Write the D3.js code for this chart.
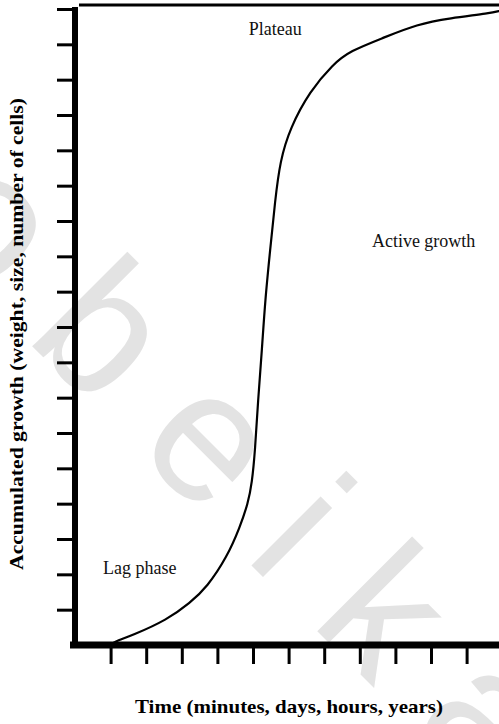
<!DOCTYPE html>
<html>
<head>
<meta charset="utf-8">
<script src="https://cdn.jsdelivr.net/npm/d3@7"></script>
<style>
  html, body { margin: 0; padding: 0; background: #fff; }
  svg { display: block; }
</style>
</head>
<body>
<div id="chart"></div>
<script>
// Sigmoid growth curve: accumulated growth against time
const timeValues   = [1.0, 1.07, 1.63, 2.58, 3.23, 3.71, 4.27, 4.63, 4.86, 4.97, 5.06, 5.14, 5.25, 5.34, 5.48, 5.62, 5.76, 6.04, 6.60, 7.25, 7.72, 8.65, 9.61, 10.53, 11.66, 11.95];
const growthValues = [0, 0.08, 0.28, 0.71, 1.19, 1.64, 2.49, 3.33, 4.01, 4.58, 5.51, 6.92, 8.33, 9.75, 11.16, 12.57, 13.70, 14.63, 15.68, 16.44, 16.81, 17.18, 17.57, 17.74, 17.88, 17.95];

const timeTicks   = d3.range(1, 12);   // 1..11
const growthTicks = d3.range(1, 19);   // 1..18

const phaseLabels = ["Plateau", "Active growth", "Lag phase"];
const phaseTime   = [4.88, 8.34, 0.79];
const phaseGrowth = [17.27, 11.27, 2.0];

const xTitle = "Time (minutes, days, hours, years)";
const yTitle = "Accumulated growth (weight, size, number of cells)";
const stamp  = "obeikan";

const W = 499, H = 724;
const svg = d3.select("#chart").append("svg")
  .attr("width", W).attr("height", H);

const x = d3.scaleLinear().domain([0, 12]).range([75, 75 + 12 * 35.6]);
const y = d3.scaleLinear().domain([0, 18]).range([645, 9]);

// faint diagonal publisher stamp behind the chart
svg.append("text")
  .attr("transform", "translate(33,347) rotate(45)")
  .attr("x", -168)
  .attr("y", 0)
  .attr("font-family", "Liberation Sans, Arial, sans-serif")
  .attr("font-size", 185)
  .attr("letter-spacing", 52)
  .attr("fill", "#e3e3e3")
  .text(stamp);

// top frame line
svg.append("line")
  .attr("x1", x(0) + 4).attr("x2", W)
  .attr("y1", 5).attr("y2", 5)
  .attr("stroke", "#000").attr("stroke-width", 3);

// left axis
const yAxis = svg.append("g")
  .attr("transform", `translate(${x(0)},0)`)
  .call(d3.axisLeft(y).tickValues(growthTicks).tickSize(18).tickSizeOuter(0).tickFormat(""));
yAxis.select(".domain").remove();
yAxis.selectAll(".tick line").attr("stroke", "#000").attr("stroke-width", 3);
svg.append("line")
  .attr("x1", x(0)).attr("x2", x(0))
  .attr("y1", y(18) - 2).attr("y2", y(0) + 3)
  .attr("stroke", "#000").attr("stroke-width", 6);

// bottom axis
const xAxis = svg.append("g")
  .attr("transform", `translate(0,${y(0)})`)
  .call(d3.axisBottom(x).tickValues(timeTicks).tickSize(19).tickSizeOuter(0).tickFormat(""));
xAxis.select(".domain").remove();
xAxis.selectAll(".tick line").attr("stroke", "#000").attr("stroke-width", 3);
svg.append("line")
  .attr("x1", x(0) - 5).attr("x2", W)
  .attr("y1", y(0)).attr("y2", y(0))
  .attr("stroke", "#000").attr("stroke-width", 7);

// growth curve
const pts = timeValues.map((t, i) => [t, growthValues[i]]);
svg.append("path")
  .datum(pts)
  .attr("fill", "none")
  .attr("stroke", "#000")
  .attr("stroke-width", 2.2)
  .attr("d", d3.line().x(d => x(d[0])).y(d => y(d[1])).curve(d3.curveBasis));

// phase annotations
svg.selectAll("text.phase")
  .data(phaseLabels)
  .join("text")
  .attr("class", "phase")
  .attr("x", (d, i) => x(phaseTime[i]))
  .attr("y", (d, i) => y(phaseGrowth[i]))
  .attr("font-family", "Liberation Serif, Times New Roman, serif")
  .attr("font-size", 18)
  .attr("fill", "#111")
  .text(d => d);

// axis titles
svg.append("text")
  .attr("x", 135).attr("y", 713)
  .attr("font-family", "Liberation Serif, Times New Roman, serif")
  .attr("font-weight", "bold")
  .attr("font-size", 19)
  .attr("textLength", 308)
  .attr("lengthAdjust", "spacingAndGlyphs")
  .attr("fill", "#000")
  .text(xTitle);

svg.append("text")
  .attr("transform", "translate(23,570) rotate(-90)")
  .attr("font-family", "Liberation Serif, Times New Roman, serif")
  .attr("font-weight", "bold")
  .attr("font-size", 18)
  .attr("textLength", 472)
  .attr("lengthAdjust", "spacingAndGlyphs")
  .attr("fill", "#000")
  .text(yTitle);
</script>
</body>
</html>
